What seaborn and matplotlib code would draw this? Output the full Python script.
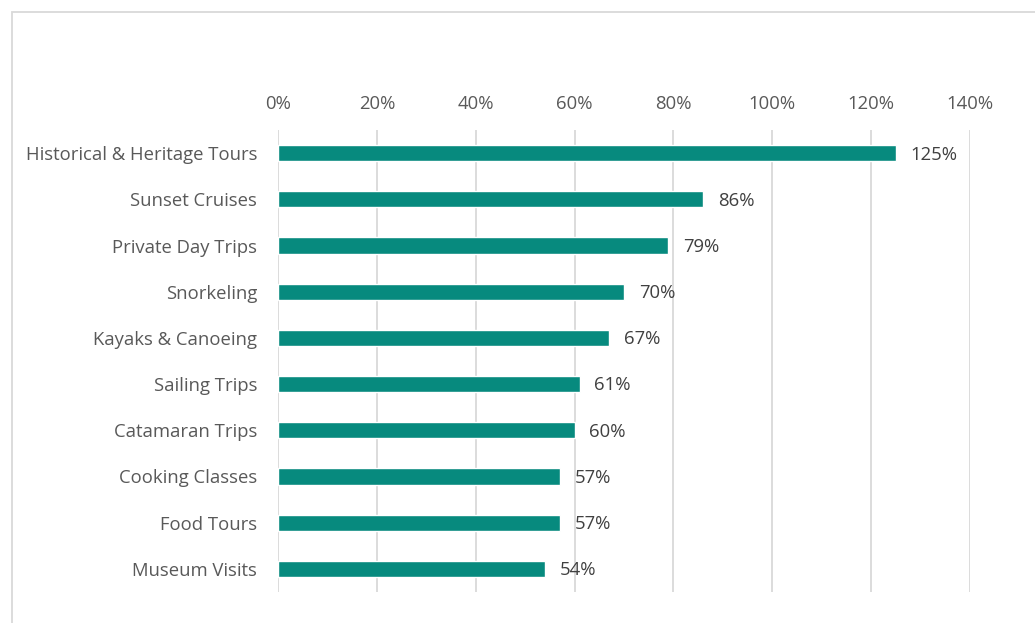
import matplotlib.pyplot as plt
import seaborn as sns
import pandas as pd
from matplotlib.patches import Rectangle

# Share of activities (percent)
activities = ["Historical & Heritage Tours", "Sunset Cruises", "Private Day Trips",
              "Snorkeling", "Kayaks & Canoeing", "Sailing Trips", "Catamaran Trips",
              "Cooking Classes", "Food Tours", "Museum Visits"]
shares = [125, 86, 79, 70, 67, 61, 60, 57, 57, 54]
ticks = [0, 20, 40, 60, 80, 100, 120, 140]

df = pd.DataFrame({"activity": activities, "share": shares})

sns.set_style("white")
plt.rcParams['font.family'] = ['Open Sans', 'DejaVu Sans']

fig = plt.figure(figsize=(10.35, 6.23), dpi=100)
ax = fig.add_axes([0.2686, 0.0498, 0.9372 - 0.2686, 0.7913 - 0.0498])

sns.barplot(data=df, y="activity", x="share", color="#078A7E", width=0.35,
            saturation=1, ax=ax, zorder=3)

ax.set_xlim(0, 140)
ax.set_xticks(ticks)
ax.set_xticklabels([f"{t}%" for t in ticks])
ax.xaxis.tick_top()
ax.tick_params(axis="x", length=0, pad=12, labelsize=13.3, labelcolor="#595959")
ax.tick_params(axis="y", length=0, pad=15, labelsize=13.3, labelcolor="#595959")
ax.set_xlabel("")
ax.set_ylabel("")
ax.grid(axis="x", color="#d9d9d9", linewidth=1.3, zorder=0)
for s in ax.spines.values():
    s.set_visible(False)

for i, v in enumerate(shares):
    ax.text(v + 3, i + 0.03, f"{v}%", va="center", ha="left", fontsize=13.3, color="#404040")

# outer chart border
fig.patches.append(Rectangle((12 / 1035, -0.1), 1.2, 1 - 12 / 623 + 0.1,
                             transform=fig.transFigure, fill=False,
                             edgecolor="#d9d9d9", linewidth=1.3))

fig.savefig("out.png", dpi=100)
